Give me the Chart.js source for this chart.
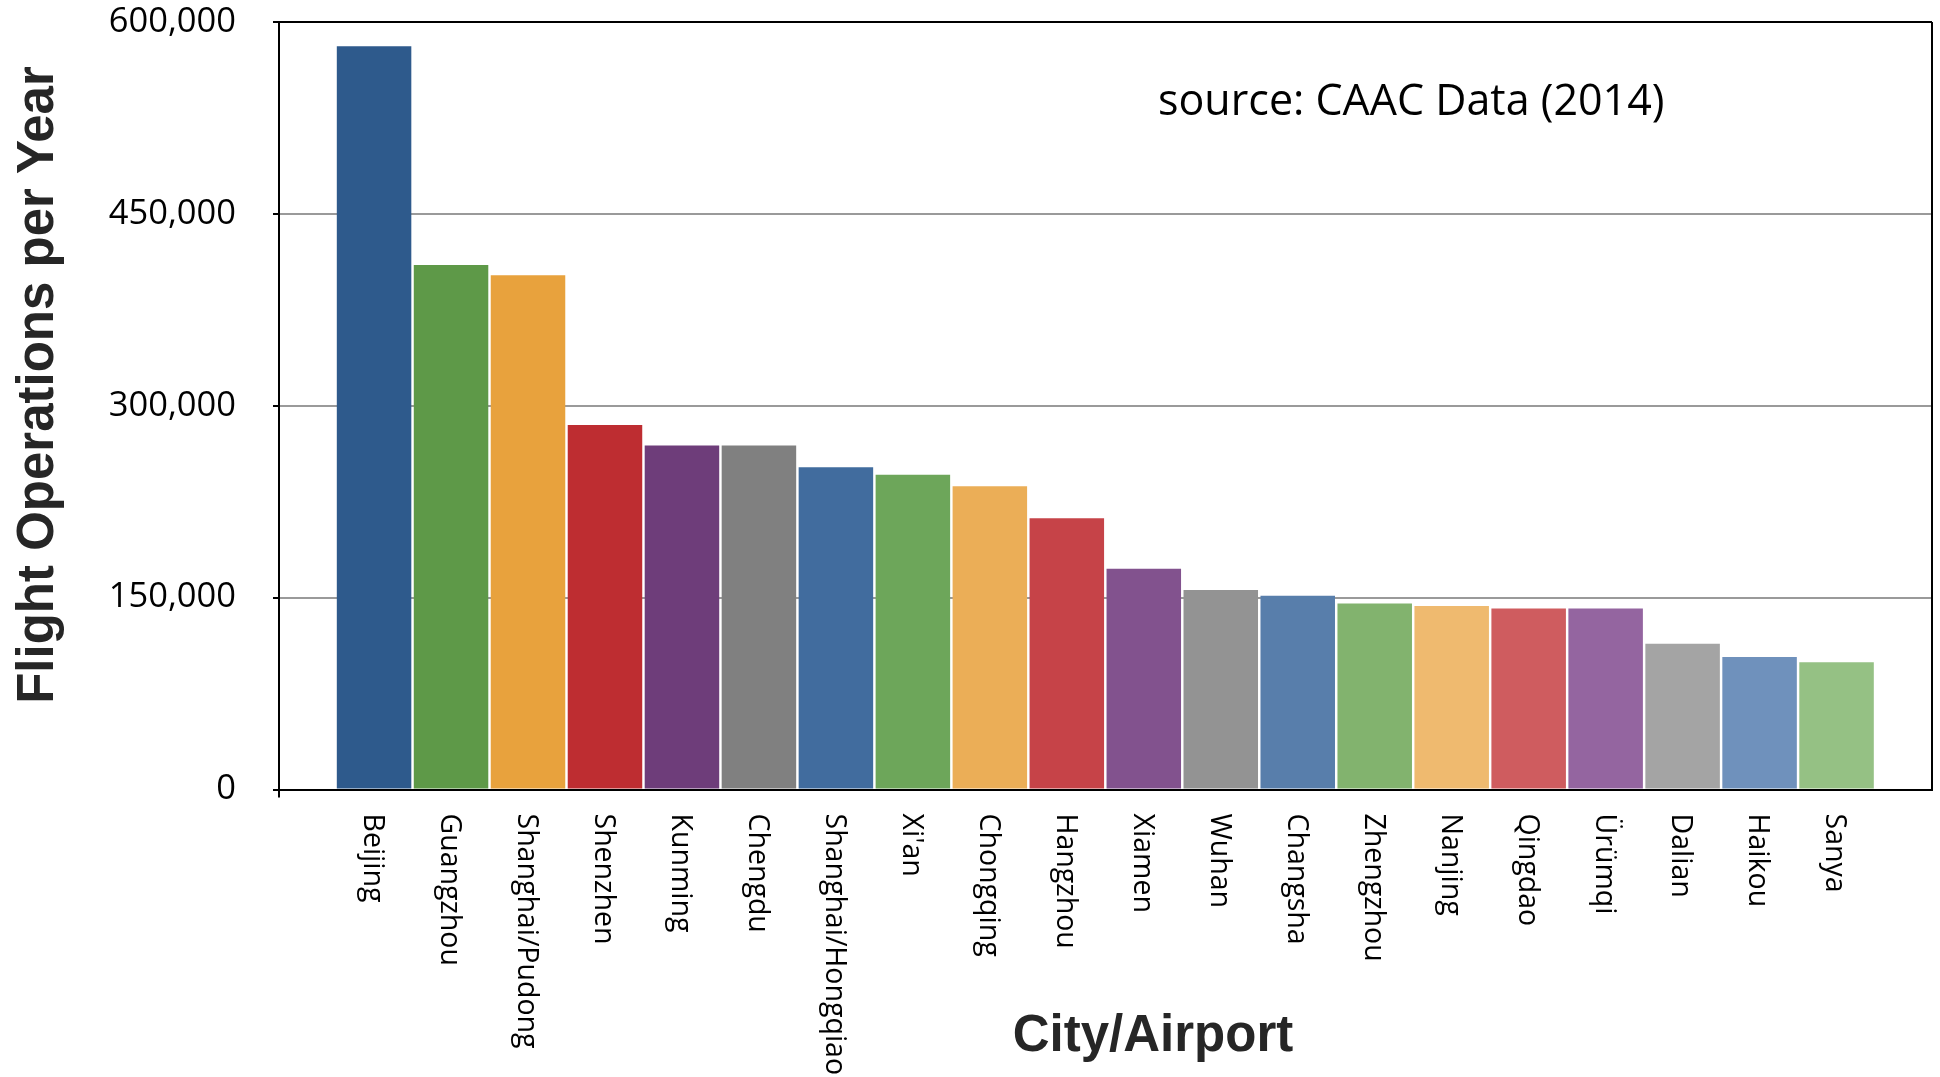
<!DOCTYPE html>
<html>
<head>
<meta charset="utf-8">
<script src="https://cdn.jsdelivr.net/npm/chart.js@4.4.1/dist/chart.umd.min.js"></script>
<style>
    html, body { margin: 0; padding: 0; background: #fff; }
    canvas { display: block; }
</style>
</head>
<body>
<canvas id="flights-chart" width="1940" height="1077"></canvas>
<script>
        // Data (CAAC 2014)
        const cities = ['Beijing', 'Guangzhou', 'Shanghai/Pudong', 'Shenzhen', 'Kunming', 'Chengdu',
            'Shanghai/Hongqiao', "Xi'an", 'Chongqing', 'Hangzhou', 'Xiamen', 'Wuhan', 'Changsha',
            'Zhengzhou', 'Nanjing', 'Qingdao', 'Ürümqi', 'Dalian', 'Haikou', 'Sanya'];
        const flightOps = [581000, 410000, 402000, 285000, 269000, 269000, 252000, 246000, 237000, 212000,
            172500, 156000, 151500, 145500, 143500, 141500, 141500, 114000, 103500, 99500];
        const yTicks = [0, 150000, 300000, 450000, 600000];
        const barColors = ['#2E5A8C', '#5E9948', '#E8A23D', '#BE2D31', '#6E3D7A', '#808080', '#416C9E',
            '#6DA65A', '#EBAE57', '#C64348', '#82528E', '#939393', '#587EAB', '#82B36E', '#EFBA6F',
            '#CF5C5F', '#9465A0', '#A4A4A4', '#6F91BC', '#95C184'];

        const titleFont = 'bold 51px "Liberation Sans", Arial, sans-serif';
        const labelFont = '28.5px "Open Sans", sans-serif';

        // Draws the frame's right edge, the rotated city labels and the titles
        const decorations = {
            id: 'decorations',
            afterDraw(chart) {
                const ctx = chart.ctx;
                const area = chart.chartArea;
                const x = chart.scales.x;

                ctx.save();
                ctx.strokeStyle = '#000';
                ctx.lineWidth = 2;
                ctx.beginPath();
                ctx.moveTo(area.right, area.top);
                ctx.lineTo(area.right, area.bottom);
                // small tick below the origin
                ctx.moveTo(area.left, area.bottom);
                ctx.lineTo(area.left, area.bottom + 8);
                ctx.stroke();

                // city labels, reading top to bottom
                ctx.fillStyle = '#000';
                ctx.font = labelFont;
                ctx.textAlign = 'left';
                ctx.textBaseline = 'middle';
                cities.forEach((name, i) => {
                    ctx.save();
                    ctx.translate(x.getPixelForValue(i) - 2, area.bottom + 24);
                    ctx.rotate(Math.PI / 2);
                    ctx.fillText(name, 0, 0);
                    ctx.restore();
                });

                // axis titles
                ctx.fillStyle = '#262626';
                ctx.font = titleFont;
                ctx.textAlign = 'center';
                ctx.textBaseline = 'alphabetic';
                ctx.fillText('City/Airport', 1153, 1051);

                ctx.save();
                ctx.translate(53, 385);
                ctx.rotate(-Math.PI / 2);
                ctx.fillText('Flight Operations per Year', 0, 0);
                ctx.restore();

                // source note
                ctx.fillStyle = '#000';
                ctx.font = '43px "Open Sans", sans-serif';
                ctx.textAlign = 'left';
                ctx.fillText('source: CAAC Data (2014)', 1158, 115);
                ctx.restore();
            }
        };

        document.addEventListener('DOMContentLoaded', function() {
            const ctx = document.getElementById('flights-chart').getContext('2d');
            new Chart(ctx, {
                type: 'bar',
                data: {
                    datasets: [{
                        data: flightOps.map((v, i) => ({ x: i, y: v })),
                        backgroundColor: barColors,
                        borderWidth: 0,
                        categoryPercentage: 1,
                        barPercentage: 0.968
                    }]
                },
                options: {
                    responsive: false,
                    animation: false,
                    devicePixelRatio: 1,
                    layout: { padding: { top: 22, right: 8, left: 0, bottom: 0 } },
                    plugins: {
                        legend: { display: false },
                        tooltip: { enabled: false }
                    },
                    scales: {
                        x: {
                            type: 'linear',
                            offset: false,
                            min: -1.235,
                            max: 20.24,
                            afterBuildTicks: scale => {
                                scale.ticks = cities.map((_, i) => ({ value: i }));
                            },
                            afterFit: scale => { scale.height = 1077 - 789.5; },
                            ticks: { display: false },
                            grid: { display: false },
                            border: { display: true, color: '#000', width: 2 }
                        },
                        y: {
                            min: 0,
                            max: 600000,
                            afterBuildTicks: scale => {
                                scale.ticks = yTicks.map(v => ({ value: v }));
                            },
                            afterFit: scale => {
                                scale.width = 279;
                                scale.paddingTop = 0;
                                scale.paddingBottom = 0;
                            },
                            ticks: {
                                color: '#000',
                                padding: 37,
                                font: { family: '"Open Sans", sans-serif', size: 34.5 },
                                callback: v => v.toLocaleString('en-US')
                            },
                            grid: {
                                color: c => (c.tick && (c.tick.value === 600000 || c.tick.value === 0)) ? '#000' : '#9a9a9a',
                                lineWidth: 2,
                                tickLength: 6,
                                tickColor: '#000'
                            },
                            border: { display: true, color: '#000', width: 2 }
                        }
                    }
                },
                plugins: [decorations]
            });
        });
</script>
</body>
</html>
